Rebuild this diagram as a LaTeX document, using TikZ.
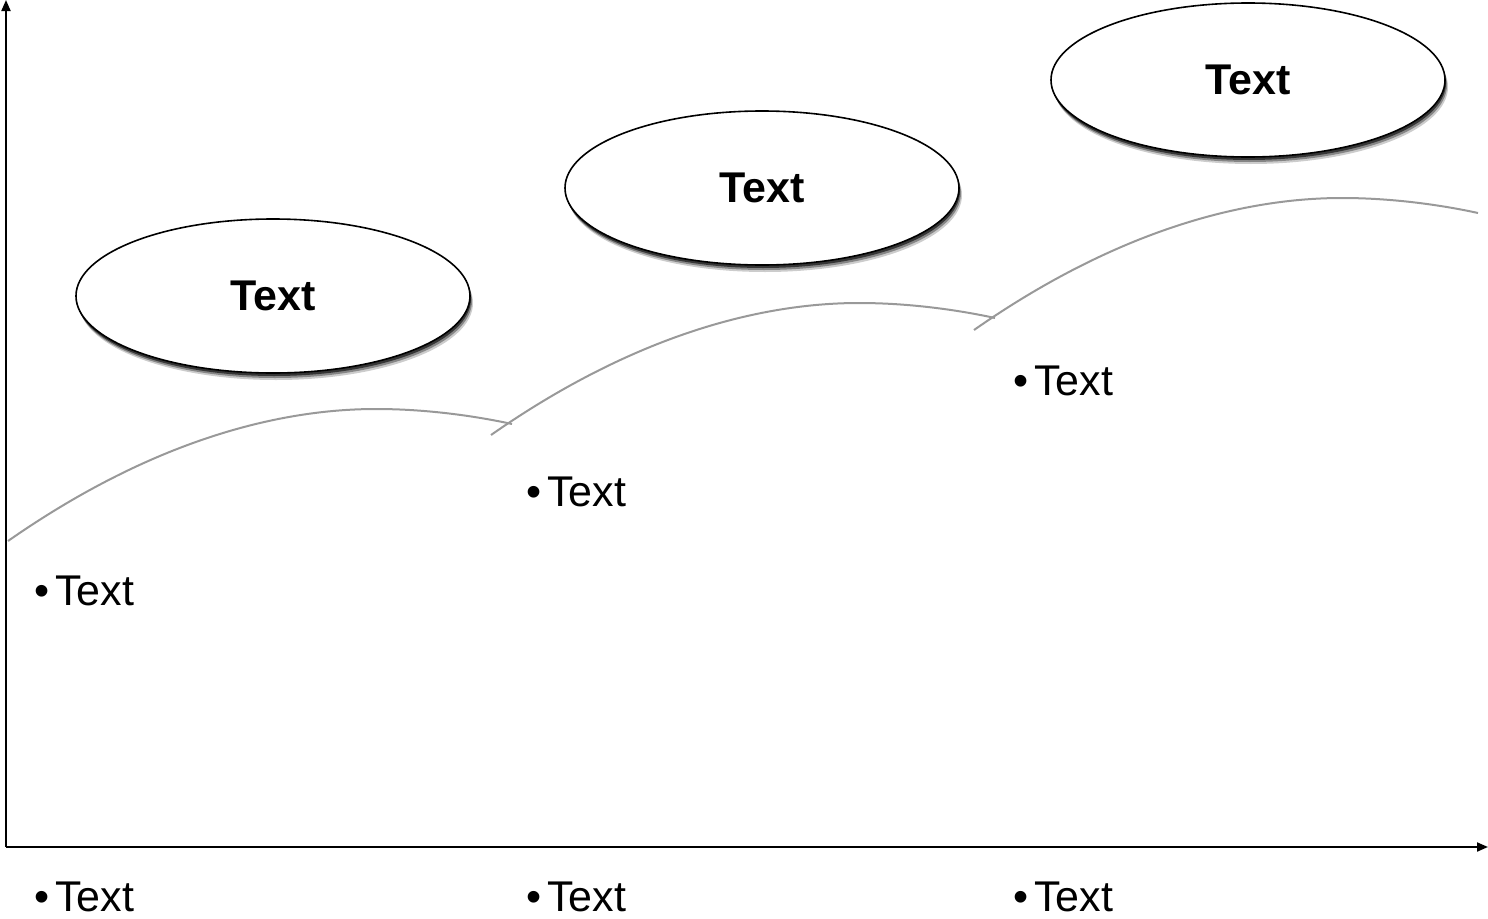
\documentclass[tikz,border=0pt]{standalone}
\usepackage{fontspec}
\setmainfont{Liberation Sans}
\usetikzlibrary{arrows.meta,shadows,shapes.geometric}
\begin{document}
\begin{tikzpicture}[x=1pt,y=-1pt,
  axis/.style={line width=2pt,-{Triangle[length=11pt,width=9pt]}},
  hill/.style={draw=black!40,line width=2pt},
  bubble/.style={ellipse,draw=black,line width=1.6pt,fill=white,minimum width=394pt,minimum height=154pt,inner sep=0pt,font=\fontsize{43}{50}\selectfont\bfseries,
    drop shadow={shadow xshift=3pt,shadow yshift=-7pt,opacity=0.2,fill=black},
    drop shadow={shadow xshift=2pt,shadow yshift=-5pt,opacity=0.35,fill=black},
    drop shadow={shadow xshift=1pt,shadow yshift=-3pt,opacity=0.6,fill=black}},
  item/.style={anchor=base west,inner sep=0pt,font=\fontsize{43}{50}\selectfont}]
\useasboundingbox (0,0) rectangle (1488,918);
\coordinate (o) at (6,847);
\coordinate (ytop) at (6,0);
\coordinate (xend) at (1488,847);
\draw[axis] (o) -- (ytop);
\draw[axis] (o) -- (xend);
% hills
\foreach \dx/\dy in {0/0,483/-106,966/-211}{
  \draw[hill,shift={(\dx,\dy)}] (8,541) .. controls (170,428) and (300,409) .. (376,409)
     .. controls (430,409) and (480,417) .. (512,424);
}
% bubbles
\node[bubble] (b1) at (273,296) {Text};
\node[bubble] (b2) at (762,188) {Text};
\node[bubble] (b3) at (1248,80) {Text};
% bullet items
\node[item] (t1) at (34,605) {•\hspace{6pt}Text};
\node[item] (t2) at (526,506) {•\hspace{6pt}Text};
\node[item] (t3) at (1013,395) {•\hspace{6pt}Text};
\node[item] (x1) at (34,911) {•\hspace{6pt}Text};
\node[item] (x2) at (526,911) {•\hspace{6pt}Text};
\node[item] (x3) at (1013,911) {•\hspace{6pt}Text};
\end{tikzpicture}
\end{document}
